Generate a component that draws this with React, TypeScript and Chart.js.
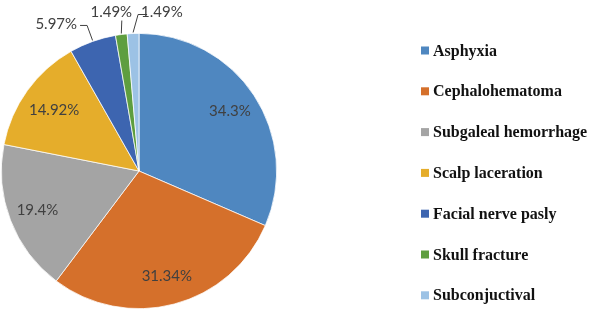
import React, { useEffect, useRef } from "react";
import { Chart, registerables } from "chart.js";

Chart.register(...registerables);

const categories = [
  "Asphyxia",
  "Cephalohematoma",
  "Subgaleal hemorrhage",
  "Scalp laceration",
  "Facial nerve pasly",
  "Skull fracture",
  "Subconjuctival",
];
const values = [34.3, 31.34, 19.4, 14.92, 5.97, 1.49, 1.49];
const valueLabels = ["34.3%", "31.34%", "19.4%", "14.92%", "5.97%", "1.49%", "1.49%"];
const colors = ["#4F87C0", "#D5702B", "#A4A4A4", "#E5AD2B", "#3D65B0", "#5E9E3F", "#9CC2E5"];

const LABEL_FONT = "15px Lato";
const LEGEND_FONT = "bold 16px 'Liberation Serif'";

const labelPlugin = {
  id: "pieLabels",
  afterDatasetsDraw(chart: any) {
    const ctx = chart.ctx;
    const meta = chart.getDatasetMeta(0);
    ctx.save();
    ctx.font = LABEL_FONT;
    ctx.fillStyle = "#404040";
    ctx.strokeStyle = "#404040";
    ctx.lineWidth = 1;
    ctx.textBaseline = "middle";
    meta.data.forEach((arc: any, i: number) => {
      const { x, y, startAngle, endAngle, outerRadius } = arc.getProps(
        ["x", "y", "startAngle", "endAngle", "outerRadius"],
        true
      );
      const mid = (startAngle + endAngle) / 2;
      const text = valueLabels[i];
      if (i < 4) {
        const f = i === 3 ? 0.76 : 0.79;
        ctx.textAlign = "center";
        ctx.fillText(text, x + Math.cos(mid) * outerRadius * f, y + Math.sin(mid) * outerRadius * f);
        return;
      }
      const ex = x + Math.cos(mid) * outerRadius;
      const ey = y + Math.sin(mid) * outerRadius - 1;
      ctx.beginPath();
      ctx.moveTo(ex, ey);
      if (i === 4) {
        const bx = ex - 5.5, by = ey - 15;
        ctx.lineTo(bx, by);
        ctx.lineTo(bx - 7, by);
        ctx.stroke();
        ctx.textAlign = "right";
        ctx.fillText(text, bx - 10, by - 1);
      } else if (i === 5) {
        const bx = ex + 0.5, by = ey - 13;
        ctx.lineTo(bx, by);
        ctx.stroke();
        ctx.textAlign = "center";
        ctx.fillText(text, ex - 10, by - 8);
      } else {
        const bx = ex + 5, by = ey - 18;
        ctx.lineTo(bx, by);
        ctx.lineTo(bx + 9, by);
        ctx.stroke();
        ctx.textAlign = "left";
        ctx.fillText(text, bx + 3, by - 2);
      }
    });
    ctx.restore();
  },
};

const legendPlugin = {
  id: "sideLegend",
  afterDraw(chart: any) {
    const ctx = chart.ctx;
    ctx.save();
    ctx.font = LEGEND_FONT;
    ctx.textBaseline = "alphabetic";
    ctx.textAlign = "left";
    categories.forEach((name, i) => {
      const cy = 50.5 + i * 40.8;
      ctx.fillStyle = colors[i];
      ctx.fillRect(421, cy - 4, 8, 8);
      ctx.fillStyle = "#111111";
      ctx.fillText(name, 433, cy + 5);
    });
    ctx.restore();
  },
};

export default function App() {
  const ref = useRef<HTMLCanvasElement | null>(null);
  useEffect(() => {
    document.body.style.margin = "0";
    let chart: Chart | null = null;
    let cancelled = false;
    const build = () => {
      if (cancelled || !ref.current) return;
      chart = new Chart(ref.current, {
        type: "pie",
        data: {
          labels: categories,
          datasets: [
            {
              data: values,
              backgroundColor: colors,
              borderColor: "#ffffff",
              borderWidth: 0.75,
            },
          ],
        },
        options: {
          animation: false,
          responsive: false,
          layout: { padding: { left: 1, top: 33, right: 316, bottom: 1 } },
          plugins: {
            legend: { display: false },
            tooltip: { enabled: false },
          },
        },
        plugins: [labelPlugin, legendPlugin],
      });
    };
    Promise.all([document.fonts.load(LABEL_FONT), document.fonts.load(LEGEND_FONT)])
      .then(build, build);
    return () => {
      cancelled = true;
      if (chart) chart.destroy();
    };
  }, []);
  return (
    <div style={{ width: 593, height: 310, background: "#fff" }}>
      <canvas ref={ref} width={593} height={310} />
    </div>
  );
}
